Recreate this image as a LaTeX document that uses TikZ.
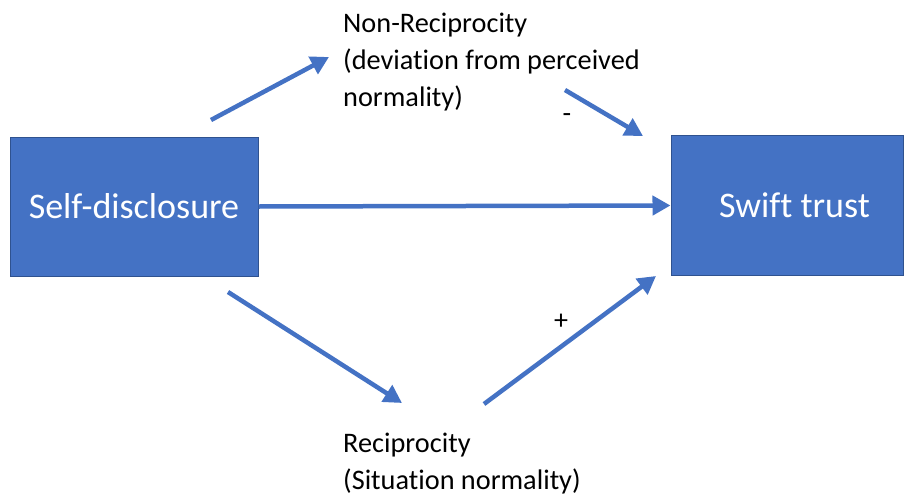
\documentclass[tikz,border=0pt]{standalone}
\usepackage{fontspec}
\setmainfont{Carlito}[Ligatures=NoCommon]
\usetikzlibrary{arrows.meta}
\definecolor{boxfill}{HTML}{4472C4}
\definecolor{boxline}{HTML}{2F528F}
\definecolor{arrowblue}{HTML}{4472C4}
\begin{document}
\begin{tikzpicture}[x=1pt,y=-1pt,
  bluebox/.style={draw=boxline, line width=1pt, fill=boxfill, text=white, font=\fontsize{36}{42}\selectfont, inner sep=0pt},
  conn/.style={draw=arrowblue, line width=4.5pt, -{Triangle[length=18pt,width=19pt]}},
  lbl/.style={anchor=base west, inner sep=0pt, font=\fontsize{28.3}{34}\selectfont, text=black},
  sign/.style={inner sep=0pt, font=\fontsize{28}{34}\selectfont, text=black}]
\useasboundingbox (0,0) rectangle (905,498);
% boxes
\node[bluebox, minimum width=248pt, minimum height=139pt] (sd) at (134,206.5) {Self-disclosure};
\node[bluebox, minimum width=232pt, minimum height=140pt] (st) at (787,205.5) {\hspace*{15pt}Swift trust};
% labels
\node[lbl] (nr1) at (343,32) {Non-Reciprocity};
\node[lbl] (nr2) at (343,69) {(deviation from perceived};
\node[lbl] (nr3) at (343,106) {normality)};
\node[lbl] (r1) at (343,452) {Reciprocity};
\node[lbl] (r2) at (343,489) {(Situation normality)};
\node[sign] (minus) at (567,118) {-};
\node[sign] (plus) at (561,322) {+};
% arrow endpoints
\coordinate (a1s) at (211,120);
\coordinate (a1e) at (329,57);
\coordinate (a2s) at (565,90);
\coordinate (a2e) at (643,136);
\coordinate (a4s) at (228,292);
\coordinate (a4e) at (402,403);
\coordinate (a5s) at (484,404);
\coordinate (a5e) at (656,276);
\draw[conn] (a1s) -- (a1e);
\draw[conn] (a2s) -- (a2e);
\draw[conn] (sd.east) -- (st.west);
\draw[conn] (a4s) -- (a4e);
\draw[conn] (a5s) -- (a5e);
\end{tikzpicture}
\end{document}
